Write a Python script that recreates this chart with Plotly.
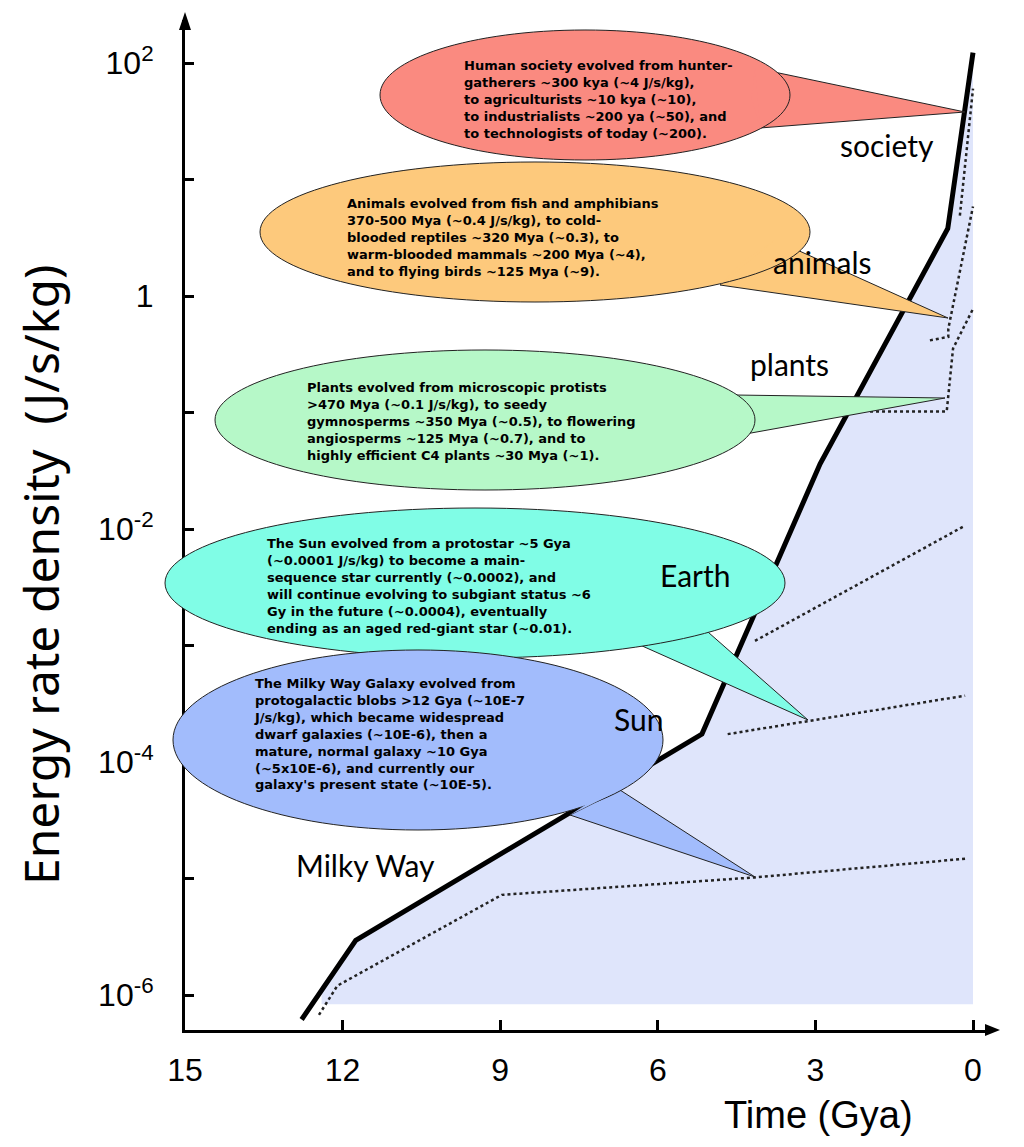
import plotly.graph_objects as go

# main curve (Gya, log10 of J/s/kg)
main_t = [12.78, 11.75, 5.16, 2.91, 0.48, 0.0]
main_logy = [-6.21, -5.53, -3.76, -1.44, 0.58, 2.09]

# shaded region under the curve
fill_t = [12.4, 12.4, 11.75, 5.16, 2.91, 0.48, 0.0, 0.0]
fill_logy = [-6.08, -5.92, -5.53, -3.76, -1.44, 0.58, 2.09, -6.08]

# dotted sub-tracks
milky_t = [12.45, 12.1, 8.97, 4.15, 0.15]
milky_logy = [-6.17, -5.92, -5.14, -4.99, -4.83]
sun_t = [4.67, 0.15]
sun_logy = [-3.76, -3.43]
earth_t = [4.15, 0.15]
earth_logy = [-2.96, -1.97]
plants_t = [1.96, 0.5, 0.38, 0.0]
plants_logy = [-0.99, -0.99, -0.45, -0.11]
animals_t = [0.82, 0.47, 0.47, 0.0]
animals_logy = [-0.38, -0.35, -0.28, 0.77]
society_t = [0.25, 0.0]
society_logy = [0.69, 1.78]

labels = ["society", "animals", "plants", "Earth", "Sun", "Milky Way"]
label_t = [1.63, 2.87, 3.5, 5.3, 6.37, 11.57]
label_logy = [1.30, 0.29, -0.58, -2.39, -3.63, -4.88]

y_tickvals = [-6, -5, -4, -3, -2, -1, 0, 1, 2]
y_ticktext = ["10<sup>-6</sup>", "", "10<sup>-4</sup>", "", "10<sup>-2</sup>", "", "1", "", "10<sup>2</sup>"]
x_tickvals = [15, 12, 9, 6, 3, 0]

bubble_texts = [
    "Human society evolved from hunter-<br>gatherers ~300 kya (~4 J/s/kg),<br>to agriculturists ~10 kya (~10),<br>to industrialists ~200 ya (~50), and<br>to technologists of today (~200).",
    "Animals evolved from fish and amphibians<br>370-500 Mya (~0.4 J/s/kg), to cold-<br>blooded reptiles ~320 Mya (~0.3), to<br>warm-blooded mammals ~200 Mya (~4),<br>and to flying birds ~125 Mya (~9).",
    "Plants evolved from microscopic protists<br>>470 Mya (~0.1 J/s/kg), to seedy<br>gymnosperms ~350 Mya (~0.5), to flowering<br>angiosperms ~125 Mya (~0.7), and to<br>highly efficient C4 plants ~30 Mya (~1).",
    "The Sun evolved from a protostar ~5 Gya<br>(~0.0001 J/s/kg) to become a main-<br>sequence star currently (~0.0002), and<br>will continue evolving to subgiant status ~6<br>Gy in the future (~0.0004), eventually<br>ending as an aged red-giant star (~0.01).",
    "The Milky Way Galaxy evolved from<br>protogalactic blobs >12 Gya (~10E-7<br>J/s/kg), which became widespread<br>dwarf galaxies (~10E-6), then a<br>mature, normal galaxy ~10 Gya<br>(~5x10E-6), and currently our<br>galaxy's present state (~10E-5).",
]
bubble_colors = ["#fa8a80", "#fdc97c", "#b6f8c8", "#80fde6", "#a2bcfc"]

W, H = 1024, 1147
OFF = 8  # page body margin
L, R, T, B = 185, 990, 20, 1030


def px(x):
    return (x - L) / (R - L)


def py(y):
    return (B - y) / (B - T)


def ellipse_path(cx, cy, rx, ry):
    k = 0.5523
    p = lambda x, y: f"{px(x):.5f},{py(y):.5f}"
    pts = ["M" + p(cx + rx, cy),
           "C" + p(cx + rx, cy + k * ry) + " " + p(cx + k * rx, cy + ry) + " " + p(cx, cy + ry),
           "C" + p(cx - k * rx, cy + ry) + " " + p(cx - rx, cy + k * ry) + " " + p(cx - rx, cy),
           "C" + p(cx - rx, cy - k * ry) + " " + p(cx - k * rx, cy - ry) + " " + p(cx, cy - ry),
           "C" + p(cx + k * rx, cy - ry) + " " + p(cx + rx, cy - k * ry) + " " + p(cx + rx, cy)]
    return " ".join(pts) + " Z"


def tri_path(a, b, c):
    return "M{:.5f},{:.5f} L{:.5f},{:.5f} L{:.5f},{:.5f} Z".format(
        px(a[0]), py(a[1]), px(b[0]), py(b[1]), px(c[0]), py(c[1]))


# bubble geometry in pixels: (cx, cy, rx, ry), tail (base1, base2, tip), text corner
bubbles = [
    ((585, 95, 205, 65), ((755, 68), (760, 128), (965, 112)), (462, 56)),
    ((535, 232, 275, 70), ((775, 240), (720, 285), (948, 318)), (345, 194)),
    ((485, 420, 270, 70), ((735, 395), (740, 435), (945, 398)), (305, 378)),
    ((475, 583, 310, 75), ((700, 625), (640, 645), (808, 720)), (265, 534)),
    ((418, 740, 245, 90), ((620, 790), (570, 815), (755, 877)), (252, 674)),
]

fig = go.Figure()
tv = lambda a: [10 ** v for v in a]

fig.add_trace(go.Scatter(x=fill_t, y=tv(fill_logy), fill="toself", fillcolor="#dfe5fb",
                         line=dict(width=0), mode="lines", hoverinfo="skip"))
for t, ly in [(milky_t, milky_logy), (sun_t, sun_logy), (earth_t, earth_logy),
              (plants_t, plants_logy), (animals_t, animals_logy), (society_t, society_logy)]:
    fig.add_trace(go.Scatter(x=t, y=tv(ly), mode="lines",
                             line=dict(color="#222", width=2.5, dash="dot")))
fig.add_trace(go.Scatter(x=main_t, y=tv(main_logy), mode="lines",
                         line=dict(color="black", width=5)))

for name, t, ly in zip(labels, label_t, label_logy):
    fig.add_annotation(x=t, y=ly, text=name, showarrow=False,
                       font=dict(family="Lato, Noto Sans", size=30, color="black"))

shapes = []
for (ell, tail, corner), col, txt in zip(bubbles, bubble_colors, bubble_texts):
    shapes.append(dict(type="path", xref="paper", yref="paper", path=tri_path(*tail),
                       fillcolor=col, line=dict(color="#222", width=1)))
    shapes.append(dict(type="path", xref="paper", yref="paper", path=ellipse_path(*ell),
                       fillcolor=col, line=dict(color="#222", width=1)))
    b1, b2, tip = tail
    shapes.append(dict(type="path", xref="paper", yref="paper",
                       path=tri_path(b1, b2, ((b1[0] + b2[0]) / 2 - 6, (b1[1] + b2[1]) / 2)),
                       fillcolor=col, line=dict(width=0)))
    fig.add_annotation(xref="paper", yref="paper", x=px(corner[0]), y=py(corner[1]),
                       xanchor="left", yanchor="top", align="left", text=txt, showarrow=False,
                       font=dict(family="DejaVu Sans", size=13, color="black", weight="bold"))

# axis arrow heads
shapes.append(dict(type="path", xref="paper", yref="paper",
                   path=tri_path((179, 30), (191, 30), (185, 12)), fillcolor="black", line=dict(width=0)))
shapes.append(dict(type="path", xref="paper", yref="paper",
                   path=tri_path((985, 1024), (985, 1036), (1000, 1030)), fillcolor="black", line=dict(width=0)))

fig.add_annotation(xref="paper", yref="paper", x=px(818), y=py(1115), xanchor="center", yanchor="middle",
                   text="Time (Gya)", showarrow=False,
                   font=dict(family="Liberation Sans", size=38, color="black"))
fig.add_annotation(xref="paper", yref="paper", x=px(40), y=py(575), xanchor="center", yanchor="middle",
                   text="Energy rate density  (J/s/kg)", textangle=-90, showarrow=False,
                   font=dict(family="Noto Sans", size=48, color="black"))

fig.update_layout(
    width=W, height=H, showlegend=False, plot_bgcolor="white", paper_bgcolor="white",
    margin=dict(l=L - OFF, r=W - R + OFF, t=T - OFF, b=H - B + OFF), shapes=shapes,
    xaxis=dict(range=[15, -(R - 973) / 52.53], showgrid=False, zeroline=False, showline=True,
               linecolor="black", linewidth=3, tickvals=x_tickvals, ticks="inside", ticklen=10,
               tickwidth=3, tickcolor="black", ticklabelstandoff=10,
               tickfont=dict(family="Liberation Sans", size=32, color="black")),
    yaxis=dict(type="log", range=[-6.30, 2.37], showgrid=False, zeroline=False, showline=True,
               linecolor="black", linewidth=3, tickvals=tv(y_tickvals), ticktext=y_ticktext,
               ticks="inside", ticklen=9, tickwidth=3, tickcolor="black", ticklabelstandoff=22,
               tickfont=dict(family="Liberation Sans", size=32, color="black")),
)

fig.write_html("out.html")
